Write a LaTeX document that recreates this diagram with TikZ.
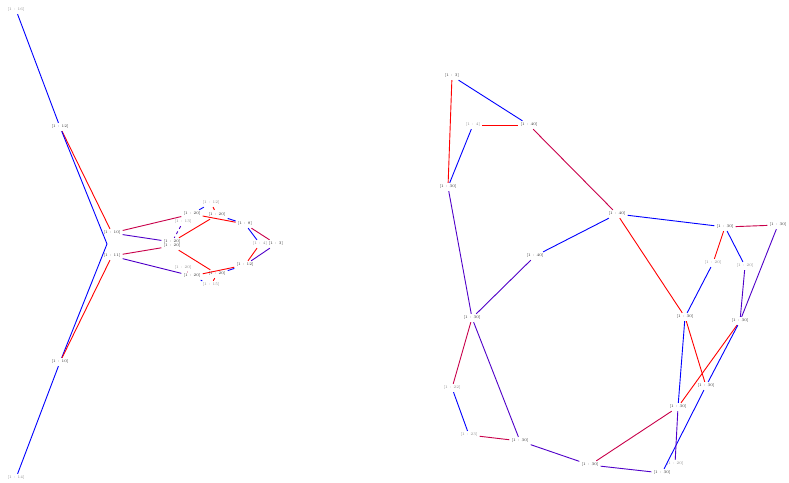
\documentclass[tikz,border=0pt]{standalone}
\usepackage{tikz}
\usetikzlibrary{arrows.meta,positioning}
\usepackage{xcolor}
\definecolor{rline}{HTML}{FF0000}
\definecolor{bline}{HTML}{0000FF}
\definecolor{rmix}{HTML}{C8004A}
\definecolor{bmix}{HTML}{5000C8}
\definecolor{lbldark}{HTML}{2E2E2E}
\definecolor{lbllight}{HTML}{8A8A8A}
\tikzset{vert/.style={inner sep=2pt,font=\fontsize{3.9}{4.2}\selectfont,text=lbldark},dimvert/.style={vert,text=lbllight},redline/.style={draw=rline,line width=.9pt},blueline/.style={draw=bline,line width=.9pt},redmix/.style={draw=rmix,line width=.9pt},bluemix/.style={draw=bmix,line width=.9pt}}

\begin{document}
\begin{tikzpicture}[x=1pt,y=-1pt]
\useasboundingbox (0,0) rectangle (789,482);
\node[dimvert] (n16) at (16,10) {[1 : 16]};
\node[vert] (n12) at (60,127) {[1 : 12]};
\node[vert] (na) at (112,233) {[1 : 10]};
\node[vert] (nb) at (112,256) {[1 : 11]};
\node[vert] (nc) at (60,362) {[1 : 10]};
\node[dimvert] (n14) at (16,478) {[1 : 14]};
\coordinate (ja) at (107,244);
\node[vert] (m1) at (192,214) {[1 : 20]};
\node[dimvert] (m2) at (211,203) {[1 : 12]};
\node[dimvert] (m3) at (183,222) {[1 : 13]};
\node[vert] (m4) at (217,215) {[1 : 20]};
\node[vert] (m5) at (172,242) {[1 : 20]};
\node[vert] (m5b) at (172,246) {[1 : 20]};
\node[vert] (m6) at (245,224) {[1 : 8]};
\node[dimvert] (m7) at (260,244) {[1 : 4]};
\node[vert] (m8) at (276,244) {[1 : 3]};
\node[vert] (m9) at (245,265) {[1 : 12]};
\node[dimvert] (m10) at (183,268) {[1 : 20]};
\node[vert] (m11) at (192,276) {[1 : 20]};
\node[vert] (m12) at (217,274) {[1 : 20]};
\node[dimvert] (m13) at (211,285) {[1 : 15]};
\node[vert] (r1) at (452,76) {[1 : 3]};
\node[dimvert] (r2) at (473,125) {[1 : 4]};
\node[vert] (r3) at (529,125) {[1 : 40]};
\node[vert] (r4) at (448,187) {[1 : 30]};
\node[vert] (r5) at (617,214) {[1 : 40]};
\node[vert] (r6) at (535,256) {[1 : 40]};
\node[vert] (r7) at (725,227) {[1 : 30]};
\node[vert] (r8) at (778,225) {[1 : 30]};
\node[dimvert] (r9) at (713,263) {[1 : 20]};
\node[dimvert] (r10) at (745,266) {[1 : 20]};
\node[vert] (r11) at (472,318) {[1 : 30]};
\node[vert] (r12) at (685,317) {[1 : 30]};
\node[vert] (r13) at (740,321) {[1 : 30]};
\node[vert] (r14) at (706,386) {[1 : 30]};
\node[dimvert] (r15) at (452,388) {[1 : 22]};
\node[vert] (r16) at (678,407) {[1 : 30]};
\node[dimvert] (r17) at (469,435) {[1 : 23]};
\node[vert] (r18) at (520,441) {[1 : 30]};
\node[vert] (r19) at (590,465) {[1 : 30]};
\node[dimvert] (r20) at (675,464) {[1 : 20]};
\node[vert] (r21) at (662,473) {[1 : 30]};
\draw[blueline] (n16)--(n12);
\draw[redline] (n12)--(na);
\draw[blueline] (n12)--(ja)--(nc);
\draw[redline] (nb)--(nc);
\draw[blueline] (nc)--(n14);
\draw[redmix] (na)--(m1);
\draw[bluemix] (na)--(m5);
\draw[redmix] (nb)--(m5b);
\draw[bluemix] (nb)--(m11);
\draw[redline] (m5)--(m4);
\draw[redline] (m5b)--(m12);
\draw[redline] (m1)--(m6);
\draw[blueline] (m4)--(m6);
\draw[redline] (m11)--(m9);
\draw[blueline] (m12)--(m9);
\draw[redline,dashed] (m2)--(m4);
\draw[blueline] (m2)--(m1);
\draw[redline] (m13)--(m12);
\draw[blueline] (m13)--(m11);
\draw[bluemix,dashed] (m3)--(m5);
\draw[redmix] (m10)--(m11);
\draw[redmix] (m6)--(m8);
\draw[blueline] (m6)--(m7);
\draw[bluemix] (m9)--(m8);
\draw[redline] (m9)--(m7);
\draw[blueline] (r1)--(r3);
\draw[redline] (r1)--(r4);
\draw[redline] (r2)--(r3);
\draw[blueline] (r2)--(r4);
\draw[redmix] (r3)--(r5);
\draw[bluemix] (r4)--(r11);
\draw[bluemix] (r11)--(r6);
\draw[blueline] (r6)--(r5);
\draw[blueline] (r5)--(r7);
\draw[redline] (r5)--(r12);
\draw[redmix] (r7)--(r8);
\draw[redline] (r7)--(r9);
\draw[blueline] (r7)--(r10);
\draw[blueline] (r9)--(r12);
\draw[bluemix] (r10)--(r13);
\draw[bluemix] (r8)--(r13);
\draw[redmix] (r11)--(r15);
\draw[bluemix] (r11)--(r18);
\draw[blueline] (r15)--(r17);
\draw[redmix] (r17)--(r18);
\draw[bluemix] (r18)--(r19);
\draw[redmix] (r19)--(r16);
\draw[bluemix] (r19)--(r21);
\draw[blueline] (r12)--(r16);
\draw[redline] (r12)--(r14);
\draw[redline] (r13)--(r16);
\draw[blueline] (r13)--(r14);
\draw[blueline] (r14)--(r21);
\draw[bluemix] (r16)--(r20);
\end{tikzpicture}
\end{document}
